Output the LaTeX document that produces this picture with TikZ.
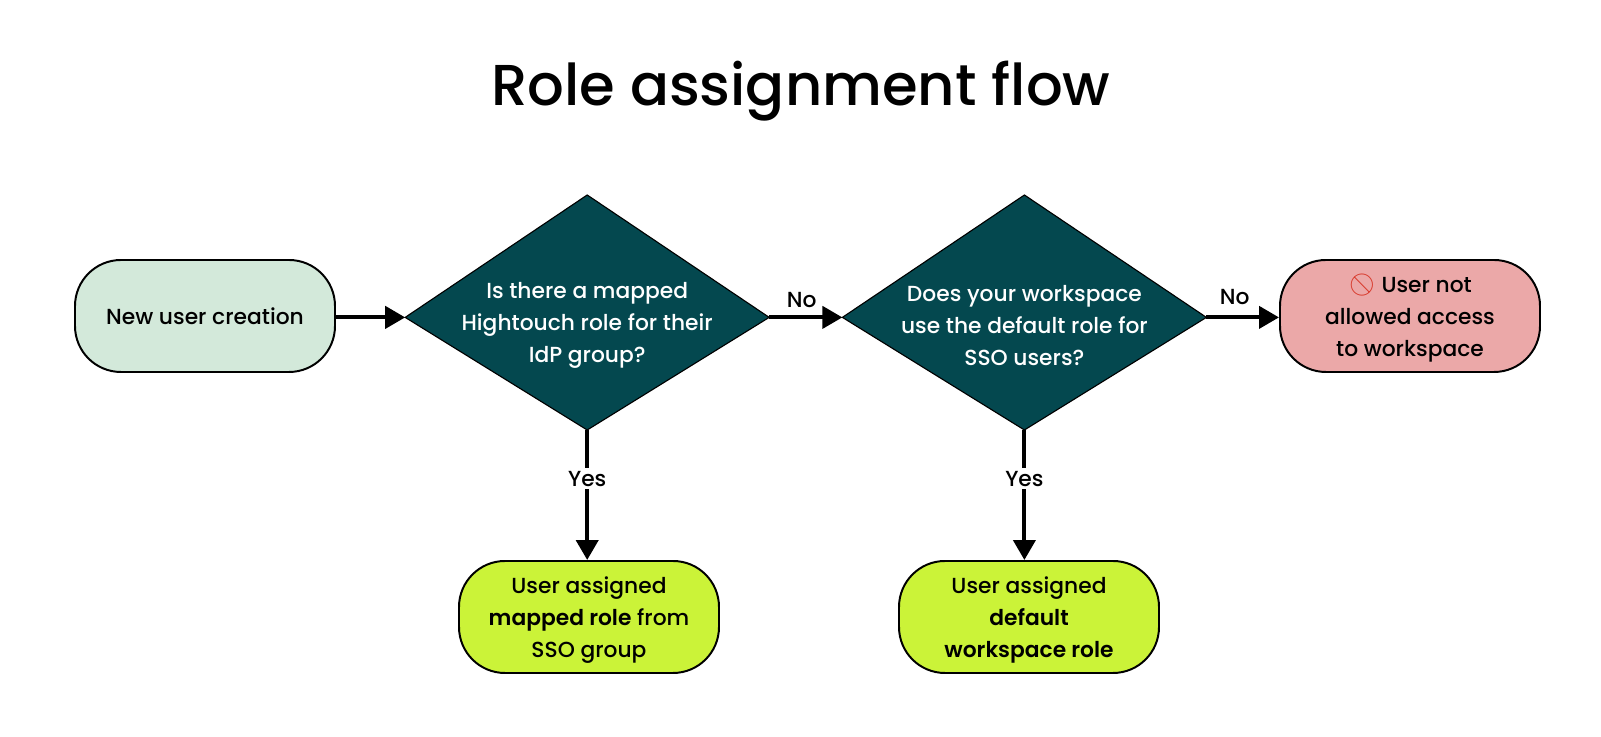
\documentclass[tikz,border=0pt]{standalone}
\usepackage{fontspec}
\setmainfont{Poppins Medium}[BoldFont={Poppins SemiBold}]
\newfontfamily\emojifont{Noto Emoji}
\usetikzlibrary{arrows.meta}
\definecolor{teal}{HTML}{04484F}
\definecolor{mint}{HTML}{D3E9DA}
\definecolor{lime}{HTML}{CBF338}
\definecolor{rose}{HTML}{EBA8A8}
\definecolor{stopred}{HTML}{D8392B}
\newcommand{\firstline}{\rule{0pt}{16pt}}
\tikzset{
  endbox/.style={draw=black, line width=1.4pt, rounded corners=1.15cm, minimum width=6.5cm,
    minimum height=2.8cm, align=center, inner sep=0pt, font=\fontsize{15.5}{22.8}\selectfont},
  decision/.style={draw=black, fill=teal, line width=0.8pt, line join=miter},
  decisiontext/.style={text=white, align=center, font=\fontsize{15.5}{22.8}\selectfont},
  flowline/.style={draw=black, line width=2.9pt, -{Triangle[length=0.5cm,width=0.55cm]}},
  flowlabel/.style={font=\fontsize{15.5}{20}\selectfont, inner sep=2pt}
}

\begin{document}
\begin{tikzpicture}
  \useasboundingbox (0, 0) rectangle (40.025, 18.425);
  \fill [white] (0, 0) rectangle (40.025, 18.425);
  \node [font=\fontsize{41}{50}\selectfont] (title) at (20.02, 16.15) {Role assignment flow};

  % the two questions: tips sit above the middle of the height
  \foreach \name/\x in {mapped/14.68, default/25.61} {
    \coordinate (\name) at (\x, 10.49);
    \coordinate (\name-top) at (\x, 13.55);
    \coordinate (\name-bottom) at (\x, 7.675);
    \coordinate (\name-west) at (\x - 4.55, 10.49);
    \coordinate (\name-east) at (\x + 4.55, 10.49);
    \draw [decision] (\name-top) -- (\name-east) -- (\name-bottom) -- (\name-west) -- cycle;
  }
  \node [decisiontext] (mappedtext) at (14.68, 10.295) {Is there a mapped\\Hightouch role for their\\IdP group?};
  \node [decisiontext] (defaulttext) at (25.61, 10.295) {Does your workspace\\use the default role for\\SSO users?};

  \node [endbox, fill=mint] (start) at (5.125, 10.525) {New user creation};
  \node [endbox, fill=rose] (denied) at (35.25, 10.525) {\firstline{\emojifont\color{stopred}🚫} User not\\allowed access\\to workspace};
  \node [endbox, fill=lime] (rolemapped) at (14.725, 3) {\firstline User assigned\\\textbf{mapped role} from\\SSO group};
  \node [endbox, fill=lime] (roledefault) at (25.725, 3) {\firstline User assigned\\\textbf{default}\\\textbf{workspace role}};

  \draw [flowline] (start.east |- mapped) -- (mapped-west);
  \draw [flowline] (mapped-east) -- node [flowlabel, above, xshift=-0.1cm, yshift=0.12cm] (nomapped) {No} (default-west);
  \draw [flowline] (default-east) -- node [flowlabel, above, xshift=-0.2cm, yshift=0.2cm] (nodefault) {No} (denied.west |- default);
  \draw [flowline] (mapped-bottom) -- node [flowlabel, fill=white, pos=0.375] (yesmapped) {Yes} (mapped |- rolemapped.north);
  \draw [flowline] (default-bottom) -- node [flowlabel, fill=white, pos=0.375] (yesdefault) {Yes} (default |- roledefault.north);
\end{tikzpicture}
\end{document}
